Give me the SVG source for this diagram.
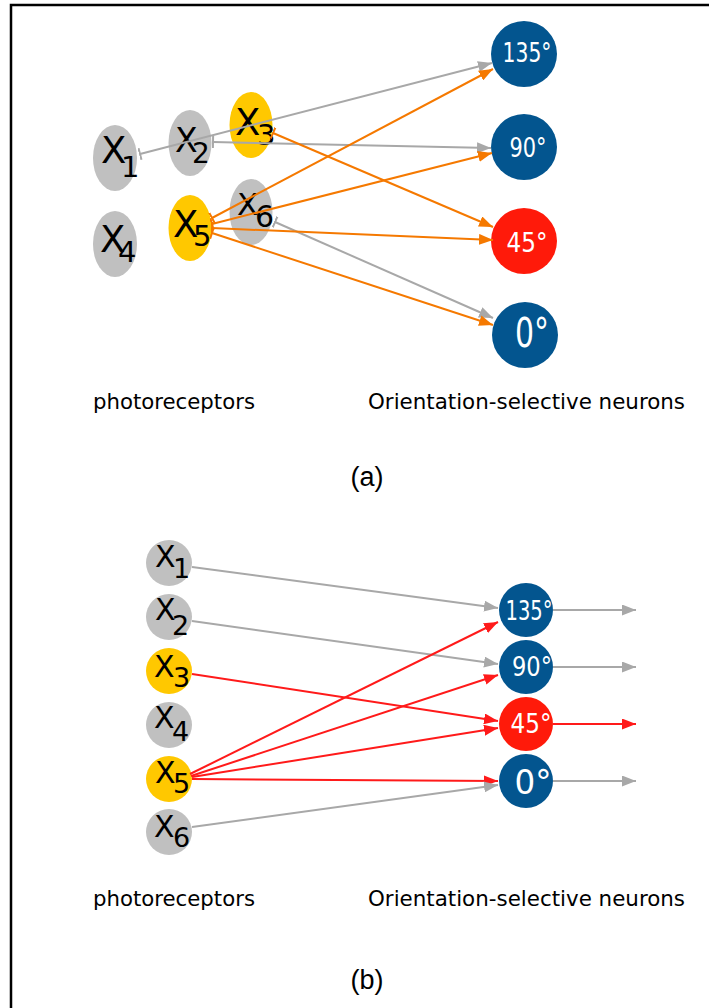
<svg xmlns="http://www.w3.org/2000/svg" width="709" height="1008" viewBox="0 0 709 1008">
<style>
.bg{fill:#ffffff}
.frame{fill:none;stroke:#000000;stroke-width:2.5}
.gray{fill:#c0c0c0}
.yel{fill:#ffc800}
.blue{fill:#03558f}
.red{fill:#ff1a0a}
.lab{font-family:"DejaVu Sans",sans-serif;fill:#000000}
.deg{font-family:"DejaVu Sans",sans-serif;fill:#ffffff;text-anchor:middle}
.cap{font-family:"DejaVu Sans",sans-serif;font-size:21px;fill:#000000}
.pan{font-family:"Liberation Sans",Arial,sans-serif;font-size:27px;fill:#000000;text-anchor:middle}
.eg{fill:none;stroke:#a8a8a8;stroke-width:2}
.eo{fill:none;stroke:#f57900;stroke-width:2}
.er{fill:none;stroke:#ff1a1a;stroke-width:2}
</style>
<defs>
<marker id="ag" markerUnits="userSpaceOnUse" viewBox="0 0 14 11" refX="14" refY="5.5" markerWidth="14" markerHeight="11" orient="auto"><path d="M0,0 L14,5.5 L0,11 z" fill="#a8a8a8"/></marker>
<marker id="ao" markerUnits="userSpaceOnUse" viewBox="0 0 14 11" refX="14" refY="5.5" markerWidth="14" markerHeight="11" orient="auto"><path d="M0,0 L14,5.5 L0,11 z" fill="#f57900"/></marker>
<marker id="ar" markerUnits="userSpaceOnUse" viewBox="0 0 14 11" refX="14" refY="5.5" markerWidth="14" markerHeight="11" orient="auto"><path d="M0,0 L14,5.5 L0,11 z" fill="#ff1a1a"/></marker>
<marker id="tg" markerUnits="userSpaceOnUse" viewBox="0 0 4 12" refX="1" refY="6" markerWidth="4" markerHeight="12" orient="auto"><line x1="1" y1="0" x2="1" y2="12" stroke="#a8a8a8" stroke-width="2"/></marker>
<marker id="to" markerUnits="userSpaceOnUse" viewBox="0 0 4 12" refX="1" refY="6" markerWidth="4" markerHeight="12" orient="auto"><line x1="1" y1="0" x2="1" y2="12" stroke="#f57900" stroke-width="2"/></marker>
</defs>
<rect class="bg" x="0" y="0" width="709" height="1008"/>
<rect class="frame" x="11" y="5" width="720" height="1030"/>

<!-- Panel (a) nodes -->
<g id="a-x1"><ellipse class="gray" cx="115" cy="158" rx="22" ry="33"/><text class="lab"><tspan x="101" y="163" font-size="37">X</tspan><tspan x="121" y="177" font-size="29">1</tspan></text></g>
<g id="a-x2"><ellipse class="gray" cx="190" cy="143" rx="21.5" ry="33"/><text class="lab"><tspan x="175" y="152" font-size="33">X</tspan><tspan x="192" y="163" font-size="28">2</tspan></text></g>
<g id="a-x3"><ellipse class="yel" cx="251" cy="125" rx="21.5" ry="33"/><text class="lab"><tspan x="235" y="135" font-size="37">X</tspan><tspan x="257" y="145" font-size="29">3</tspan></text></g>
<g id="a-x4"><ellipse class="gray" cx="115" cy="244" rx="22" ry="33"/><text class="lab"><tspan x="100" y="252" font-size="37">X</tspan><tspan x="118" y="262" font-size="29">4</tspan></text></g>
<g id="a-x5"><ellipse class="yel" cx="190" cy="228" rx="21.5" ry="33"/><text class="lab"><tspan x="173" y="237" font-size="37">X</tspan><tspan x="193" y="246" font-size="29">5</tspan></text></g>
<g id="a-x6"><ellipse class="gray" cx="251" cy="212" rx="21.5" ry="33"/><text class="lab"><tspan x="237" y="215" font-size="31">X</tspan><tspan x="255" y="227" font-size="30">6</tspan></text></g>

<g id="a-n135"><circle class="blue" cx="524" cy="54" r="33"/><text class="deg" x="527" y="62" font-size="27" textLength="49" lengthAdjust="spacingAndGlyphs">135°</text></g>
<g id="a-n90"><circle class="blue" cx="524" cy="147" r="33"/><text class="deg" x="528" y="157" font-size="27" textLength="37" lengthAdjust="spacingAndGlyphs">90°</text></g>
<g id="a-n45"><circle class="red" cx="524" cy="241" r="33"/><text class="deg" x="527" y="252" font-size="27" textLength="41" lengthAdjust="spacingAndGlyphs">45°</text></g>
<g id="a-n0"><circle class="blue" cx="525" cy="335" r="33"/><text class="deg" x="532" y="347" font-size="40" textLength="34" lengthAdjust="spacingAndGlyphs">0°</text></g>

<!-- Panel (a) connectors -->
<g id="a-connectors">
<line class="eg" x1="140" y1="154" x2="492" y2="63" marker-start="url(#tg)" marker-end="url(#ag)"/>
<line class="eg" x1="213" y1="142" x2="491" y2="148" marker-start="url(#tg)" marker-end="url(#ag)"/>
<line class="eg" x1="275" y1="222" x2="493" y2="318" marker-start="url(#tg)" marker-end="url(#ag)"/>
<line class="eo" x1="273" y1="133" x2="493" y2="227" marker-start="url(#to)" marker-end="url(#ao)"/>
<line class="eo" x1="212" y1="218" x2="493" y2="69" marker-start="url(#to)" marker-end="url(#ao)"/>
<line class="eo" x1="212" y1="224" x2="492" y2="153" marker-start="url(#to)" marker-end="url(#ao)"/>
<line class="eo" x1="212" y1="228" x2="493" y2="240" marker-start="url(#to)" marker-end="url(#ao)"/>
<line class="eo" x1="212" y1="233" x2="493" y2="325" marker-start="url(#to)" marker-end="url(#ao)"/>
</g>

<text class="cap" x="93" y="409" textLength="162" lengthAdjust="spacingAndGlyphs">photoreceptors</text>
<text class="cap" x="368" y="409" textLength="317" lengthAdjust="spacingAndGlyphs">Orientation-selective neurons</text>
<text class="pan" x="367" y="486">(a)</text>

<!-- Panel (b) nodes -->
<g id="b-x1"><circle class="gray" cx="169" cy="563" r="23"/><text class="lab"><tspan x="155" y="567" font-size="30">X</tspan><tspan x="173" y="578" font-size="27">1</tspan></text></g>
<g id="b-x2"><circle class="gray" cx="169" cy="617" r="23"/><text class="lab"><tspan x="155" y="620" font-size="30">X</tspan><tspan x="172" y="635" font-size="27">2</tspan></text></g>
<g id="b-x3"><circle class="yel" cx="169" cy="671" r="23"/><text class="lab"><tspan x="154" y="677" font-size="30">X</tspan><tspan x="173" y="687" font-size="27">3</tspan></text></g>
<g id="b-x4"><circle class="gray" cx="169" cy="725" r="23"/><text class="lab"><tspan x="154" y="728" font-size="30">X</tspan><tspan x="172" y="741" font-size="27">4</tspan></text></g>
<g id="b-x5"><circle class="yel" cx="169" cy="779" r="23"/><text class="lab"><tspan x="155" y="783" font-size="30">X</tspan><tspan x="173" y="793" font-size="27">5</tspan></text></g>
<g id="b-x6"><circle class="gray" cx="169" cy="832" r="23"/><text class="lab"><tspan x="154" y="837" font-size="30">X</tspan><tspan x="173" y="847" font-size="27">6</tspan></text></g>

<!-- Panel (b) connectors -->
<g id="b-connectors">
<line class="eg" x1="192" y1="567" x2="498" y2="608" marker-end="url(#ag)"/>
<line class="eg" x1="192" y1="621" x2="498" y2="664" marker-end="url(#ag)"/>
<line class="er" x1="192" y1="674" x2="498" y2="721" marker-end="url(#ar)"/>
<line class="er" x1="190" y1="774" x2="498" y2="622" marker-end="url(#ar)"/>
<line class="er" x1="191" y1="776" x2="498" y2="675" marker-end="url(#ar)"/>
<line class="er" x1="192" y1="777" x2="498" y2="728" marker-end="url(#ar)"/>
<line class="er" x1="192" y1="779" x2="498" y2="781" marker-end="url(#ar)"/>
<line class="eg" x1="192" y1="827" x2="498" y2="785" marker-end="url(#ag)"/>
<line class="eg" x1="553" y1="610" x2="636" y2="610" marker-end="url(#ag)"/>
<line class="eg" x1="553" y1="667" x2="636" y2="667" marker-end="url(#ag)"/>
<line class="er" x1="553" y1="724" x2="636" y2="724" marker-end="url(#ar)"/>
<line class="eg" x1="553" y1="781" x2="636" y2="781" marker-end="url(#ag)"/>
</g>

<g id="b-n135"><circle class="blue" cx="526" cy="610" r="27"/><text class="deg" x="529" y="620" font-size="27" textLength="47" lengthAdjust="spacingAndGlyphs">135°</text></g>
<g id="b-n90"><circle class="blue" cx="526" cy="667" r="27"/><text class="deg" x="532" y="676" font-size="27" textLength="40" lengthAdjust="spacingAndGlyphs">90°</text></g>
<g id="b-n45"><circle class="red" cx="526" cy="724" r="27"/><text class="deg" x="531" y="733" font-size="27" textLength="41" lengthAdjust="spacingAndGlyphs">45°</text></g>
<g id="b-n0"><circle class="blue" cx="526" cy="781" r="27"/><text class="deg" x="533" y="794" font-size="34" textLength="37" lengthAdjust="spacingAndGlyphs">0°</text></g>

<text class="cap" x="93" y="906" textLength="162" lengthAdjust="spacingAndGlyphs">photoreceptors</text>
<text class="cap" x="368" y="906" textLength="317" lengthAdjust="spacingAndGlyphs">Orientation-selective neurons</text>
<text class="pan" x="367" y="989">(b)</text>
</svg>
